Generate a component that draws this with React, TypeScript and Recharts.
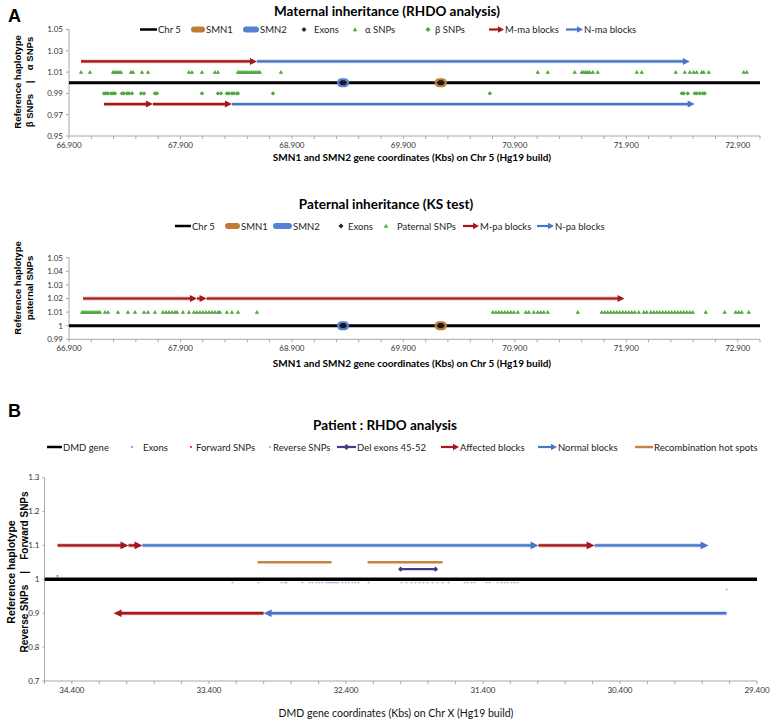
import React from 'react';
import { ScatterChart, Scatter, XAxis, YAxis } from 'recharts';

// ---------------- Panel A : maternal (RHDO) ----------------
const chr5Span: [number, number] = [66900, 73100];
const smn1Span: [number, number] = [70221, 70250];
const smn2Span: [number, number] = [69345, 69373];
const smn1Exons = [70221, 70226, 70231, 70236, 70241, 70246, 70250];
const smn2Exons = [69345, 69350, 69355, 69360, 69365, 69369, 69373];
const alphaSnps = [67008, 67088, 67295, 67313, 67330, 67348, 67366, 67456, 67474, 67555, 67609, 67976, 68003, 68093, 68209, 68236, 68416, 68434, 68452, 68470, 68487, 68505, 68523, 68541, 68559, 68577, 68595, 68613, 68801, 71106, 71196, 71438, 71501, 71519, 71537, 71555, 71573, 71600, 71644, 71994, 72039, 72344, 72425, 72470, 72505, 72532, 72577, 72595, 72640, 72954, 72981];
const betaSnps = [67214, 67232, 67250, 67277, 67295, 67313, 67375, 67393, 67420, 67438, 67465, 67546, 67573, 67671, 67689, 68093, 68236, 68263, 68317, 68335, 68362, 68380, 68407, 68416, 68730, 70676, 72398, 72416, 72452, 72514, 72532, 72559, 72586, 72604];
const alphaMBlocks: [number, number][] = [[67008, 68586]];
const alphaNBlocks: [number, number][] = [[68586, 72470]];
const betaMBlocks: [number, number][] = [[67214, 67653], [67653, 68362]];
const betaNBlocks: [number, number][] = [[68362, 72514]];
const alphaSnpLevel = 1.01;
const betaSnpLevel = 0.99;
const alphaBlockLevel = 1.02;
const betaBlockLevel = 0.98;
const geneLevel = 1;

// ---------------- Panel A : paternal (KS) ----------------
const paternalSnps = [67017, 67035, 67052, 67070, 67088, 67106, 67124, 67142, 67160, 67178, 67223, 67250, 67339, 67429, 67492, 67573, 67609, 67671, 67743, 67770, 67797, 67824, 67851, 67869, 67922, 67976, 68021, 68048, 68075, 68102, 68129, 68156, 68183, 68209, 68236, 68254, 68317, 68362, 68416, 68586, 70703, 70730, 70757, 70783, 70810, 70837, 70864, 70891, 70927, 70999, 71026, 71070, 71106, 71133, 71160, 71196, 71465, 71680, 71707, 71734, 71761, 71788, 71815, 71842, 71869, 71896, 71922, 71949, 71976, 72012, 72057, 72084, 72120, 72147, 72174, 72200, 72227, 72254, 72281, 72308, 72335, 72362, 72389, 72416, 72443, 72470, 72496, 72613, 72783, 72882, 72909, 72936, 72999];
const paternalMBlocks: [number, number][] = [[67026, 68048], [68048, 68135], [68135, 71885]];
const paternalSnpLevel = 1.01;
const paternalBlockLevel = 1.02;

const xMajorA = [66900, 67900, 68900, 69900, 70900, 71900, 72900];
const yTicksA1 = [0.95, 0.97, 0.99, 1.01, 1.03, 1.05];
const yTicksA2 = [0.99, 1, 1.01, 1.02, 1.03, 1.04, 1.05];

// ---------------- Panel B : patient DMD ----------------
const dmdSpan: [number, number] = [34600, 29400];
const forwardAffected: [number, number][] = [[34505, 33987], [33987, 33885], [30994, 30585]];
const forwardNormal: [number, number][] = [[33885, 30994], [30585, 29753]];
const reverseNormal: [number, number][] = [[29622, 33001]];
const reverseAffected: [number, number][] = [[33001, 34096]];
const hotSpots: [number, number][] = [[33045, 32505], [32242, 31695]];
const delExons: [number, number] = [32001, 31746];
const dmdExons = [33228, 33038, 32870, 32848, 32834, 32717, 32666, 32644, 32615, 32593, 32571, 32542, 32527, 32512, 32498, 32483, 32469, 32454, 32425, 32403, 32381, 32352, 32330, 32308, 32235, 31994, 31958, 31921, 31892, 31863, 31834, 31804, 31768, 31731, 31695, 31651, 31534, 31512, 31483, 31461, 31374, 31352, 31293, 31264, 31242, 31220, 31191, 31169, 31147];
const forwardSnps = [34505];
const reverseSnps = [29622];
const forwardLevel = 1.1;
const reverseLevel = 0.9;
const hotSpotLevel = 1.05;
const delLevel = 1.03;
const exonLevelB = 0.99;
const forwardSnpLevel = 1.01;
const reverseSnpLevel = 0.97;
const xMajorB = [34400, 33400, 32400, 31400, 30400, 29400];
const yTicksB = [0.7, 0.8, 0.9, 1, 1.1, 1.2, 1.3];

// ---------------- styles ----------------
const FONT = "Lato, 'Liberation Sans', Arial, sans-serif";
const BOLDFONT = "'Liberation Sans', Arial, sans-serif";
const GREEN = '#4ca63a';
const RED = '#a3171d';
const RED_HALO = '#eab3b3';
const BLUE = '#4a76c6';
const BLUE_HALO = '#c3d4f0';
const SMN1C = '#c27b37';
const SMN2C = '#5582d4';
const HOT = '#c5843f';
const PURPLE = '#433b8a';
const EXONB = '#a2a4da';
const AXIS = '#a8a8a8';
const TICKTXT = '#333';

const fmtKb = (v: number) => `${Math.floor(v / 1000)}.${String(v % 1000).padStart(3, '0')}`;

const stepTicks = (from: number, to: number, step: number) => {
  const out: number[] = [];
  for (let v = from; v <= to; v += step) out.push(v);
  return out;
};

function ArrowLine(props: any) {
  const { points, col, sw, arrow, halo, cap, hl = 7, hh = 3.5 } = props;
  if (!points || points.length < 2) return null;
  const p1 = points[0];
  const p2 = points[points.length - 1];
  const dx = p2.x - p1.x;
  const dy = p2.y - p1.y;
  const len = Math.hypot(dx, dy) || 1;
  const ux = dx / len;
  const uy = dy / len;
  const bx = p2.x - ux * hl;
  const by = p2.y - uy * hl;
  const ex = arrow ? bx + ux : p2.x;
  const ey = arrow ? by + uy : p2.y;
  return (
    <g>
      {halo ? (
        <line x1={p1.x} y1={p1.y} x2={ex} y2={ey} stroke={halo} strokeWidth={sw + 1.6} strokeLinecap={cap || 'butt'} />
      ) : null}
      <line x1={p1.x} y1={p1.y} x2={ex} y2={ey} stroke={col} strokeWidth={sw} strokeLinecap={cap || 'butt'} />
      {arrow ? (
        <polygon
          points={`${p2.x},${p2.y} ${bx - uy * hh},${by + ux * hh} ${bx + uy * hh},${by - ux * hh}`}
          fill={col}
        />
      ) : null}
    </g>
  );
}

const Empty = () => <g />;

const segs = (
  key: string,
  list: [number, number][],
  y: number,
  col: string,
  sw: number,
  opts: { arrow?: boolean; halo?: string; cap?: string; hl?: number; hh?: number } = {}
) =>
  list.map((s, i) => (
    <Scatter
      key={`${key}-${i}`}
      data={[{ x: s[0], y }, { x: s[1], y }]}
      line={<ArrowLine col={col} sw={sw} {...opts} />}
      shape={Empty}
      isAnimationActive={false}
    />
  ));

const tri = (col: string, s: number) => (p: any) =>
  <polygon points={`${p.cx},${p.cy - s} ${p.cx - s},${p.cy + s * 0.8} ${p.cx + s},${p.cy + s * 0.8}`} fill={col} />;
const dia = (col: string, s: number) => (p: any) =>
  <polygon points={`${p.cx},${p.cy - s} ${p.cx + s},${p.cy} ${p.cx},${p.cy + s} ${p.cx - s},${p.cy}`} fill={col} />;
const dash = (col: string, w: number, h: number) => (p: any) =>
  <rect x={p.cx - w / 2} y={p.cy - h / 2} width={w} height={h} fill={col} />;

const marks = (key: string, xs: number[], y: number, shape: (p: any) => React.ReactElement) => (
  <Scatter key={key} data={xs.map((x) => ({ x, y }))} shape={shape} isAnimationActive={false} />
);

// ---------------- legend ----------------
type Kind = 'line' | 'thick' | 'diamond' | 'triangle' | 'arrow' | 'dot' | 'lineDiamond';
interface LegendSpec { label: string; kind: Kind; color: string; x: number; tx: number }

const legendA1: LegendSpec[] = [
  { label: 'Chr 5', kind: 'line', color: '#000', x: 140, tx: 158 },
  { label: 'SMN1', kind: 'thick', color: SMN1C, x: 191, tx: 206 },
  { label: 'SMN2', kind: 'thick', color: SMN2C, x: 243, tx: 260 },
  { label: 'Exons', kind: 'diamond', color: '#222', x: 304, tx: 314 },
  { label: 'α SNPs', kind: 'triangle', color: GREEN, x: 355, tx: 365 },
  { label: 'β SNPs', kind: 'diamond', color: GREEN, x: 428, tx: 435 },
  { label: 'M-ma blocks', kind: 'arrow', color: RED, x: 489, tx: 505 },
  { label: 'N-ma blocks', kind: 'arrow', color: BLUE, x: 566, tx: 584 },
];
const legendA2: LegendSpec[] = [
  { label: 'Chr 5', kind: 'line', color: '#000', x: 175, tx: 192 },
  { label: 'SMN1', kind: 'thick', color: SMN1C, x: 225, tx: 241 },
  { label: 'SMN2', kind: 'thick', color: SMN2C, x: 273, tx: 293 },
  { label: 'Exons', kind: 'diamond', color: '#222', x: 341, tx: 348 },
  { label: 'Paternal SNPs', kind: 'triangle', color: GREEN, x: 386, tx: 397 },
  { label: 'M-pa blocks', kind: 'arrow', color: RED, x: 463, tx: 480 },
  { label: 'N-pa blocks', kind: 'arrow', color: BLUE, x: 537, tx: 555 },
];
const legendB: LegendSpec[] = [
  { label: 'DMD gene', kind: 'line', color: '#000', x: 47, tx: 63 },
  { label: 'Exons', kind: 'dot', color: EXONB, x: 132, tx: 143 },
  { label: 'Forward SNPs', kind: 'dot', color: '#e0483a', x: 191, tx: 196 },
  { label: 'Reverse SNPs', kind: 'dot', color: '#c8b0a0', x: 270, tx: 273 },
  { label: 'Del exons 45-52', kind: 'lineDiamond', color: PURPLE, x: 337, tx: 357 },
  { label: 'Affected blocks', kind: 'arrow', color: RED, x: 441, tx: 460 },
  { label: 'Normal blocks', kind: 'arrow', color: BLUE, x: 538, tx: 558 },
  { label: 'Recombination hot spots', kind: 'line', color: HOT, x: 635, tx: 654 },
];

function LegendRow({ items, y, size }: { items: LegendSpec[]; y: number; size: number }) {
  return (
    <g>
      {items.map((it) => {
        const x2 = it.tx - 1;
        let sym: React.ReactNode = null;
        if (it.kind === 'line') sym = <line x1={it.x} y1={y} x2={x2} y2={y} stroke={it.color} strokeWidth={2.5} />;
        if (it.kind === 'thick')
          sym = <line x1={it.x + 3} y1={y} x2={x2 - 3} y2={y} stroke={it.color} strokeWidth={6} strokeLinecap="round" />;
        if (it.kind === 'diamond')
          sym = <polygon points={`${it.x},${y - 2.5} ${it.x + 2.5},${y} ${it.x},${y + 2.5} ${it.x - 2.5},${y}`} fill={it.color} />;
        if (it.kind === 'triangle')
          sym = <polygon points={`${it.x},${y - 2.2} ${it.x - 2.2},${y + 1.8} ${it.x + 2.2},${y + 1.8}`} fill={it.color} />;
        if (it.kind === 'dot') sym = <rect x={it.x - 1} y={y - 1} width={2} height={2} fill={it.color} />;
        if (it.kind === 'arrow')
          sym = (
            <g>
              <line x1={it.x} y1={y} x2={x2 - 5} y2={y} stroke={it.color} strokeWidth={2.2} />
              <polygon points={`${x2},${y} ${x2 - 6},${y - 3.2} ${x2 - 6},${y + 3.2}`} fill={it.color} />
            </g>
          );
        if (it.kind === 'lineDiamond')
          sym = (
            <g>
              <line x1={it.x} y1={y} x2={x2} y2={y} stroke={it.color} strokeWidth={2.2} />
              <polygon points={`${(it.x + x2) / 2},${y - 3} ${(it.x + x2) / 2 + 3},${y} ${(it.x + x2) / 2},${y + 3} ${(it.x + x2) / 2 - 3},${y}`} fill={it.color} />
            </g>
          );
        return (
          <g key={it.label}>
            {sym}
            <text x={it.tx} y={y} dominantBaseline="central" fontSize={size} fontFamily={FONT} fill="#222">
              {it.label}
            </text>
          </g>
        );
      })}
    </g>
  );
}

const tickStyle = { fontSize: 8, fill: TICKTXT, fontFamily: FONT };

export default function App() {
  const xTicksA = stepTicks(66900, 73100, 200);
  const xTicksB = stepTicks(29400, 34600, 200);
  const fmtA = (v: number) => (xMajorA.includes(v) ? fmtKb(v) : '');
  const fmtB = (v: number) => (xMajorB.includes(v) ? fmtKb(v) : '');
  const fmtY2 = (v: number) => String(Number(v.toFixed(2)));
  const fmtYB = (v: number) => String(Number(v.toFixed(1)));

  return (
    <div style={{ position: 'absolute', left: 0, top: 0, width: 771, height: 724, background: '#fff', overflow: 'hidden' }}>
      {/* Maternal chart */}
      <div style={{ position: 'absolute', left: 0, top: 0 }}>
        <ScatterChart width={771} height={170} margin={{ top: 29.5, right: 11, bottom: 0, left: 0 }}>
          <XAxis
            type="number"
            dataKey="x"
            domain={[66900, 73100]}
            ticks={xTicksA}
            interval={0}
            tickFormatter={fmtA}
            allowDataOverflow
            height={34}
            stroke={AXIS}
            tickSize={3}
            tickMargin={3}
            tick={tickStyle}
          />
          <YAxis
            type="number"
            dataKey="y"
            domain={[0.95, 1.05]}
            ticks={yTicksA1}
            interval={0}
            tickFormatter={(v: number) => v.toFixed(2)}
            allowDataOverflow
            width={69}
            stroke={AXIS}
            tickSize={3}
            tickMargin={3}
            tick={tickStyle}
          />
          {segs('chr5', [chr5Span], geneLevel, '#000', 3)}
          {segs('smn2', [smn2Span], geneLevel, SMN2C, 9, { cap: 'round' })}
          {segs('smn1', [smn1Span], geneLevel, SMN1C, 9, { cap: 'round' })}
          {marks('ex2', smn2Exons, geneLevel, dia('#1a1a1a', 2.6))}
          {marks('ex1', smn1Exons, geneLevel, dia('#1a1a1a', 2.6))}
          {marks('alpha', alphaSnps, alphaSnpLevel, tri(GREEN, 2.2))}
          {marks('beta', betaSnps, betaSnpLevel, dia(GREEN, 2.2))}
          {segs('aM', alphaMBlocks, alphaBlockLevel, RED, 2.2, { arrow: true, halo: RED_HALO })}
          {segs('aN', alphaNBlocks, alphaBlockLevel, BLUE, 2.2, { arrow: true, halo: BLUE_HALO })}
          {segs('bM', betaMBlocks, betaBlockLevel, RED, 2.2, { arrow: true, halo: RED_HALO })}
          {segs('bN', betaNBlocks, betaBlockLevel, BLUE, 2.2, { arrow: true, halo: BLUE_HALO })}
        </ScatterChart>
      </div>

      {/* Paternal chart */}
      <div style={{ position: 'absolute', left: 0, top: 220 }}>
        <ScatterChart width={771} height={150} margin={{ top: 37.7, right: 11, bottom: 0, left: 0 }}>
          <XAxis
            type="number"
            dataKey="x"
            domain={[66900, 73100]}
            ticks={xTicksA}
            interval={0}
            tickFormatter={fmtA}
            allowDataOverflow
            height={30.7}
            stroke={AXIS}
            tickSize={3}
            tickMargin={3}
            tick={tickStyle}
          />
          <YAxis
            type="number"
            dataKey="y"
            domain={[0.99, 1.05]}
            ticks={yTicksA2}
            interval={0}
            tickFormatter={fmtY2}
            allowDataOverflow
            width={69}
            stroke={AXIS}
            tickSize={3}
            tickMargin={3}
            tick={tickStyle}
          />
          {segs('chr5p', [chr5Span], geneLevel, '#000', 3)}
          {segs('smn2p', [smn2Span], geneLevel, SMN2C, 9, { cap: 'round' })}
          {segs('smn1p', [smn1Span], geneLevel, SMN1C, 9, { cap: 'round' })}
          {marks('ex2p', smn2Exons, geneLevel, dia('#1a1a1a', 2.6))}
          {marks('ex1p', smn1Exons, geneLevel, dia('#1a1a1a', 2.6))}
          {marks('pat', paternalSnps, paternalSnpLevel, tri(GREEN, 2.2))}
          {segs('pM', paternalMBlocks, paternalBlockLevel, RED, 2.2, { arrow: true, halo: RED_HALO })}
        </ScatterChart>
      </div>

      {/* Patient chart */}
      <div style={{ position: 'absolute', left: 0, top: 460 }}>
        <ScatterChart width={771} height={264} margin={{ top: 17.6, right: 14, bottom: 0, left: 0 }}>
          <XAxis
            type="number"
            dataKey="x"
            domain={[29400, 34600]}
            reversed
            ticks={xTicksB}
            interval={0}
            tickFormatter={fmtB}
            allowDataOverflow
            height={43}
            stroke={AXIS}
            tickSize={3}
            tickMargin={3}
            tick={tickStyle}
          />
          <YAxis
            type="number"
            dataKey="y"
            domain={[0.7, 1.3]}
            ticks={yTicksB}
            interval={0}
            tickFormatter={fmtYB}
            allowDataOverflow
            width={44.5}
            stroke={AXIS}
            tickSize={2}
            tickMargin={3}
            tick={tickStyle}
          />
          {segs('dmd', [dmdSpan], geneLevel, '#000', 3.5)}
          {segs('hot', hotSpots, hotSpotLevel, HOT, 2.5)}
          {segs('del', [delExons], delLevel, PURPLE, 2.2)}
          {marks('delm', delExons, delLevel, dia(PURPLE, 2.6))}
          {marks('exB', dmdExons, exonLevelB, dash(EXONB, 1.8, 1.2))}
          {marks('fwdSnp', forwardSnps, forwardSnpLevel, dash('#e0483a', 1.6, 1.6))}
          {marks('revSnp', reverseSnps, reverseSnpLevel, dash('#e88a4a', 1.6, 1.6))}
          {segs('fA', forwardAffected, forwardLevel, RED, 2.4, { arrow: true, halo: RED_HALO, hl: 8, hh: 3.8 })}
          {segs('fN', forwardNormal, forwardLevel, BLUE, 2.4, { arrow: true, halo: BLUE_HALO, hl: 8, hh: 3.8 })}
          {segs('rN', reverseNormal, reverseLevel, BLUE, 2.4, { arrow: true, halo: BLUE_HALO, hl: 8, hh: 3.8 })}
          {segs('rA', reverseAffected, reverseLevel, RED, 2.4, { arrow: true, halo: RED_HALO, hl: 8, hh: 3.8 })}
        </ScatterChart>
      </div>

      {/* Overlay: titles, legends, axis titles */}
      <svg width={771} height={724} style={{ position: 'absolute', left: 0, top: 0, pointerEvents: 'none' }}>
        <text x={8} y={16} fontSize={18} fontWeight="bold" fontFamily={BOLDFONT} dominantBaseline="central">A</text>
        <text x={387} y={11} fontSize={13.5} fontWeight="bold" fontFamily={FONT} textAnchor="middle" dominantBaseline="central">
          Maternal inheritance (RHDO analysis)
        </text>
        <LegendRow items={legendA1} y={29.5} size={9.5} />
        <text x={412} y={157} fontSize={10} fontWeight="bold" fontFamily={FONT} textAnchor="middle" dominantBaseline="central">
          SMN1 and SMN2 gene coordinates (Kbs) on Chr 5 (Hg19 build)
        </text>
        <g transform="translate(17,82) rotate(-90)">
          <text x={0} y={0} fontSize={9.5} fontWeight="bold" fontFamily={BOLDFONT} textAnchor="middle" dominantBaseline="central">
            Reference haplotype
          </text>
        </g>
        <g transform="translate(29,82) rotate(-90)">
          <text x={0} y={0} fontSize={9.5} fontWeight="bold" fontFamily={BOLDFONT} textAnchor="middle" dominantBaseline="central" xmlSpace="preserve">
            β SNPs    |    α SNPs
          </text>
        </g>

        <text x={386} y={204} fontSize={13.5} fontWeight="bold" fontFamily={FONT} textAnchor="middle" dominantBaseline="central">
          Paternal inheritance (KS test)
        </text>
        <LegendRow items={legendA2} y={226} size={9.5} />
        <text x={412} y={363} fontSize={10} fontWeight="bold" fontFamily={FONT} textAnchor="middle" dominantBaseline="central">
          SMN1 and SMN2 gene coordinates (Kbs) on Chr 5 (Hg19 build)
        </text>
        <g transform="translate(17,288) rotate(-90)">
          <text x={0} y={0} fontSize={9.5} fontWeight="bold" fontFamily={BOLDFONT} textAnchor="middle" dominantBaseline="central">
            Reference haplotype
          </text>
        </g>
        <g transform="translate(29,288) rotate(-90)">
          <text x={0} y={0} fontSize={9.5} fontWeight="bold" fontFamily={BOLDFONT} textAnchor="middle" dominantBaseline="central">
            paternal SNPs
          </text>
        </g>

        <text x={8} y={411} fontSize={18} fontWeight="bold" fontFamily={BOLDFONT} dominantBaseline="central">B</text>
        <text x={385} y={425} fontSize={13.5} fontWeight="bold" fontFamily={FONT} textAnchor="middle" dominantBaseline="central">
          Patient : RHDO analysis
        </text>
        <LegendRow items={legendB} y={447} size={9.5} />
        <text x={396} y={713} fontSize={10.5} fontFamily={FONT} textAnchor="middle" dominantBaseline="central" fill="#111">
          DMD gene coordinates (Kbs) on Chr X (Hg19 build)
        </text>
        <g transform="translate(11,572) rotate(-90)">
          <text x={0} y={0} fontSize={10.5} fontWeight="bold" fontFamily={BOLDFONT} textAnchor="middle" dominantBaseline="central">
            Reference haplotype
          </text>
        </g>
        <g transform="translate(24,572) rotate(-90)">
          <text x={0} y={0} fontSize={10} fontWeight="bold" fontFamily={BOLDFONT} textAnchor="middle" dominantBaseline="central" xmlSpace="preserve">
            Reverse SNPs    |    Forward SNPs
          </text>
        </g>
      </svg>
    </div>
  );
}
